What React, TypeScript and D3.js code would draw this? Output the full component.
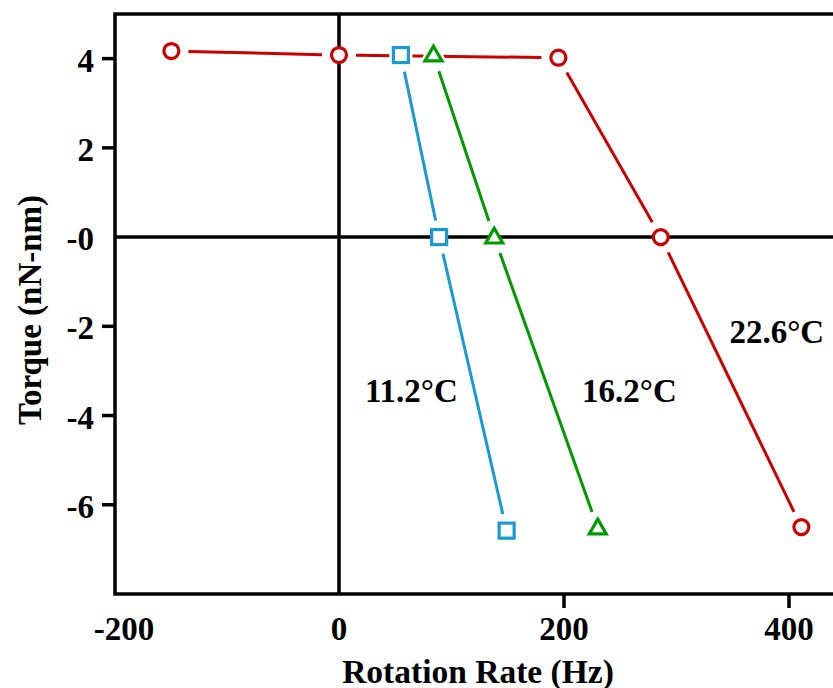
import React from "react";
import * as d3 from "d3";

const redX = [-149, 0, 195, 286, 411];
const redY = [4.17, 4.08, 4.02, 0, -6.5];
const blueX = [55, 89, 149];
const blueY = [4.08, 0, -6.58];
const greenX = [84, 138, 230];
const greenY = [4.08, 0, -6.52];

const xTicks = [200, 400];
const xTickLabels = [-200, 0, 200, 400];
const yTicks = [4, 2, -2, -4, -6];
const yTickLabels = [4, 2, 0, -2, -4, -6];

const labels = [
  { text: "11.2°C", x: 23, y: -3.7 },
  { text: "16.2°C", x: 216, y: -3.7 },
  { text: "22.6°C", x: 347, y: -2.38 },
];

const W = 833, H = 688;
const L = 115, T = 14, B = 594, R = 902;
const FONT = "'Liberation Serif', 'Times New Roman', serif";

export default function App() {
  const x = d3.scaleLinear().domain([-200, 500]).range([114, 901.5]);
  const y = d3.scaleLinear().domain([-8, 5]).range([B, T]);

  const series = [
    { xs: redX, ys: redY, color: "#cc0000", shape: "circle" },
    { xs: blueX, ys: blueY, color: "#1a9ad0", shape: "square" },
    { xs: greenX, ys: greenY, color: "#009a00", shape: "triangle" },
  ];

  const gap = 17;
  const segs: any[] = [];
  series.forEach((s, si) => {
    const pts = s.xs.map((v, i) => [x(v), y(s.ys[i])]);
    for (let i = 0; i < pts.length - 1; i++) {
      const [x1, y1] = pts[i];
      const [x2, y2] = pts[i + 1];
      const d = Math.hypot(x2 - x1, y2 - y1);
      const ux = (x2 - x1) / d, uy = (y2 - y1) / d;
      segs.push(
        <line key={`s${si}-${i}`} x1={x1 + ux * gap} y1={y1 + uy * gap}
          x2={x2 - ux * gap} y2={y2 - uy * gap}
          stroke={s.color} strokeWidth={3} />
      );
    }
  });

  const marker = (shape: string, cx: number, cy: number, stroke: string, sw: number, fill: string, key: string) => {
    if (shape === "circle") return <circle key={key} cx={cx} cy={cy} r={7.5} fill={fill} stroke={stroke} strokeWidth={sw} />;
    if (shape === "square") return <rect key={key} x={cx - 7.5} y={cy - 7.5} width={15} height={15} fill={fill} stroke={stroke} strokeWidth={sw} />;
    const s = 17;
    const h = s * Math.sqrt(3) / 2;
    const p = `M${cx},${cy - h * 2 / 3 + 1}L${cx + s / 2},${cy + h / 3 + 1}L${cx - s / 2},${cy + h / 3 + 1}Z`;
    return <path key={key} d={p} fill={fill} stroke={stroke} strokeWidth={sw} strokeLinejoin="miter" />;
  };

  const halos: any[] = [];
  const marks: any[] = [];
  series.forEach((s, si) => {
    s.xs.forEach((v, i) => {
      halos.push(marker(s.shape, x(v), y(s.ys[i]), "#ffffff", 8, "#ffffff", `h${si}-${i}`));
      marks.push(marker(s.shape, x(v), y(s.ys[i]), s.color, 3.2, "#ffffff", `m${si}-${i}`));
    });
  });

  const fmtY = (v: number) => (v === 0 ? "-0" : String(v));

  return (
    <svg width={W} height={H} style={{ position: "absolute", left: 0, top: 0, background: "#fff" }}
      fontFamily={FONT} fontWeight="bold">
      {segs}
      {halos}
      <path d={`M${R},${T}H${L}V${B}H${R}`} fill="none" stroke="#000" strokeWidth={3.5} />
      <line x1={x(0)} x2={x(0)} y1={T} y2={B} stroke="#000" strokeWidth={3.5} />
      <line x1={L} x2={R} y1={y(0)} y2={y(0)} stroke="#000" strokeWidth={3.5} />
      {yTicks.map((t) => (
        <line key={`yt${t}`} x1={102} x2={L} y1={y(t)} y2={y(t)} stroke="#000" strokeWidth={3.5} />
      ))}
      {yTickLabels.map((t) => (
        <text key={`yl${t}`} x={94} y={y(t) + 13} textAnchor="end" fontSize={33}>{fmtY(t)}</text>
      ))}
      {xTicks.map((t) => (
        <line key={`xt${t}`} x1={x(t)} x2={x(t)} y1={B} y2={608} stroke="#000" strokeWidth={3.5} />
      ))}
      {xTickLabels.map((t) => (
        <text key={`xl${t}`} x={x(t) + (t === -200 ? 10 : 0)} y={640} textAnchor="middle" fontSize={33}>{t}</text>
      ))}
      {marks}
      {labels.map((l) => (
        <text key={l.text} x={x(l.x)} y={y(l.y)} fontSize={33}>{l.text}</text>
      ))}
      <text x={478} y={683} textAnchor="middle" fontSize={33.5}>Rotation Rate (Hz)</text>
      <text transform={`translate(41,310) rotate(-90)`} textAnchor="middle" fontSize={33}>Torque (nN-nm)</text>
    </svg>
  );
}
